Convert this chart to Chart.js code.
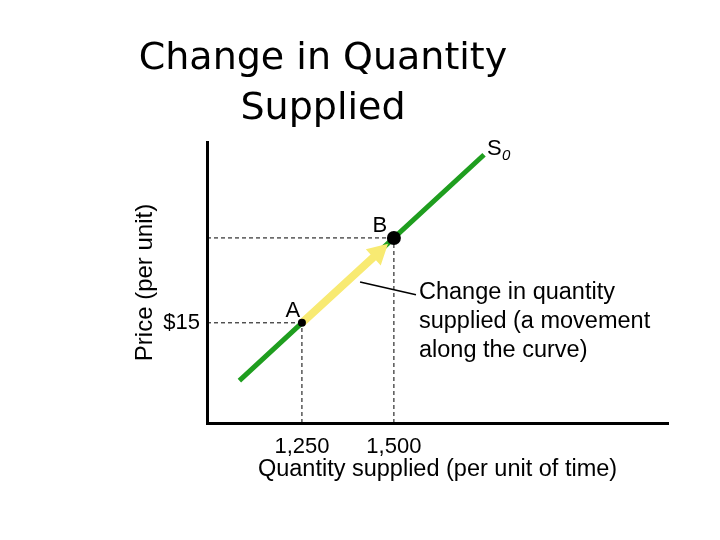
<!DOCTYPE html>
<html><head><meta charset="utf-8">
<script src="https://cdn.jsdelivr.net/npm/chart.js@4/dist/chart.umd.min.js"></script>
<style>html,body{margin:0;padding:0;background:#fff;}</style>
</head><body>
<canvas id="c" width="720" height="540" style="width:720px;height:540px;display:block"></canvas>
<script>
// ---- data ----
const titleLines = ['Change in Quantity', 'Supplied'];
const xAxisTitle = 'Quantity supplied (per unit of time)';
const yAxisTitle = 'Price (per unit)';
const xTickValues = [1250, 1500];
const xTickLabels = ['1,250', '1,500'];
const yTickValues = [15];
const yTickLabels = ['$15'];
const supplyQty = [1080, 1250, 1500, 1745];
const supplyPrice = [11.6, 15, 20, 24.9];
const pointLabels = ['A', 'B'];
const pointQty = [1250, 1500];
const pointPrice = [15, 20];
const arrowQty = [1250, 1484];
const arrowPrice = [15, 19.65];
const leaderQty = [1408, 1560];
const leaderPrice = [17.4, 16.65];
const annotationLines = ['Change in quantity', 'supplied (a movement', 'along the curve)'];
const curveName = 'S';
const curveSub = '0';
const xRange = [992, 2245];
const yRange = [9.1, 25.65];

const SANS = '"Liberation Sans", Arial, sans-serif';
const TITLE_FONT = '"DejaVu Sans", sans-serif';

const pts = (xs, ys) => xs.map((x, i) => ({x, y: ys[i]}));

// guide (dashed) lines from the axes to points A and B
const guides = [];
pointQty.forEach((q, i) => {
  guides.push([{x: xRange[0], y: pointPrice[i]}, {x: q, y: pointPrice[i]}]);
  guides.push([{x: q, y: yRange[0]}, {x: q, y: pointPrice[i]}]);
});

const datasets = [
  { // 0 points
    data: pts(pointQty, pointPrice), showLine: false,
    pointRadius: [4, 7], pointBackgroundColor: '#000', pointBorderColor: '#000', pointBorderWidth: 0
  },
  { // 1 supply curve
    data: pts(supplyQty, supplyPrice), showLine: true, borderColor: '#1f9e1f', borderWidth: 5,
    pointRadius: 0, borderCapStyle: 'butt'
  },
  { // 2 leader line
    data: pts(leaderQty, leaderPrice), showLine: true, borderColor: '#000', borderWidth: 1.5, pointRadius: 0
  },
  ...guides.map(g => ({
    data: g, showLine: true, borderColor: '#000', borderWidth: 1, borderDash: [4, 3], pointRadius: 0
  }))
];

const overlay = {
  id: 'overlay',
  afterDatasetDraw(chart, args) {
    if (args.index !== 1) return;
    const xs = chart.scales.x, ys = chart.scales.y, ctx = chart.ctx;
    const x0 = xs.getPixelForValue(arrowQty[0]), y0 = ys.getPixelForValue(arrowPrice[0]);
    const x1 = xs.getPixelForValue(arrowQty[1]), y1 = ys.getPixelForValue(arrowPrice[1]);
    const ang = Math.atan2(y1 - y0, x1 - x0), L = Math.hypot(x1 - x0, y1 - y0);
    const headLen = 20, headHalf = 11, shaft = 4;
    ctx.save();
    ctx.translate(x0, y0); ctx.rotate(ang);
    ctx.fillStyle = '#f8ea72';
    ctx.beginPath();
    ctx.moveTo(0, -shaft); ctx.lineTo(L - headLen, -shaft); ctx.lineTo(L - headLen, -headHalf);
    ctx.lineTo(L, 0); ctx.lineTo(L - headLen, headHalf); ctx.lineTo(L - headLen, shaft);
    ctx.lineTo(0, shaft); ctx.closePath(); ctx.fill();
    ctx.restore();
  },
  afterDraw(chart) {
    const xs = chart.scales.x, ys = chart.scales.y, ctx = chart.ctx;
    ctx.save();
    ctx.fillStyle = '#000';
    ctx.textBaseline = 'middle';
    // title
    ctx.textAlign = 'center';
    ctx.font = '38px ' + TITLE_FONT;
    titleLines.forEach((t, i) => ctx.fillText(t, 323, 59 + i * 50));
    // point labels
    ctx.font = '22px ' + SANS;
    const offs = [[-9, -12], [-14, -12]];
    pointLabels.forEach((l, i) => {
      ctx.fillText(l, xs.getPixelForValue(pointQty[i]) + offs[i][0], ys.getPixelForValue(pointPrice[i]) + offs[i][1]);
    });
    // curve label S0
    const ex = xs.getPixelForValue(supplyQty[supplyQty.length - 1]);
    const ey = ys.getPixelForValue(supplyPrice[supplyPrice.length - 1]);
    ctx.textAlign = 'left';
    ctx.font = '22px ' + SANS;
    ctx.fillText(curveName, ex + 3, ey - 6);
    ctx.font = 'italic 15px ' + SANS;
    ctx.fillText(curveSub, ex + 18, ey + 1);
    // annotation
    const ax = xs.getPixelForValue(leaderQty[1]) + 3;
    const ay = ys.getPixelForValue(leaderPrice[1]) - 2;
    ctx.font = '23.5px ' + SANS;
    annotationLines.forEach((t, i) => ctx.fillText(t, ax, ay + i * 29));
    ctx.restore();
  }
};

new Chart(document.getElementById('c'), {
  type: 'scatter',
  data: { datasets },
  options: {
    responsive: false, animation: false, devicePixelRatio: 1,
    layout: { padding: { top: 142, right: 52, left: 0, bottom: 0 } },
    plugins: { legend: { display: false }, tooltip: { enabled: false }, title: { display: false } },
    scales: {
      x: {
        type: 'linear', min: xRange[0], max: xRange[1],
        grid: { display: false, drawTicks: false },
        border: { display: true, color: '#000', width: 3 },
        afterBuildTicks: s => { s.ticks = xTickValues.map(v => ({value: v})); },
        afterFit: s => { s.height = 117; },
        ticks: { padding: 11, color: '#000', font: { family: SANS, size: 22 }, maxRotation: 0, autoSkip: false,
          callback: v => { const k = xTickValues.indexOf(v); return k >= 0 ? xTickLabels[k] : ''; } },
        title: { display: true, text: xAxisTitle, color: '#000', font: { family: SANS, size: 23.5 }, padding: { top: 0, bottom: 56 } }
      },
      y: {
        type: 'linear', min: yRange[0], max: yRange[1],
        grid: { display: false, drawTicks: false },
        border: { display: true, color: '#000', width: 3 },
        afterBuildTicks: s => { s.ticks = yTickValues.map(v => ({value: v})); },
        afterFit: s => { s.width = 207; },
        ticks: { padding: 7, color: '#000', font: { family: SANS, size: 22 }, autoSkip: false,
          callback: v => { const k = yTickValues.indexOf(v); return k >= 0 ? yTickLabels[k] : ''; } },
        title: { display: true, text: yAxisTitle, color: '#000', font: { family: SANS, size: 24 }, padding: { top: 131, bottom: 0 } }
      }
    }
  },
  plugins: [overlay]
});
</script>
</body></html>
